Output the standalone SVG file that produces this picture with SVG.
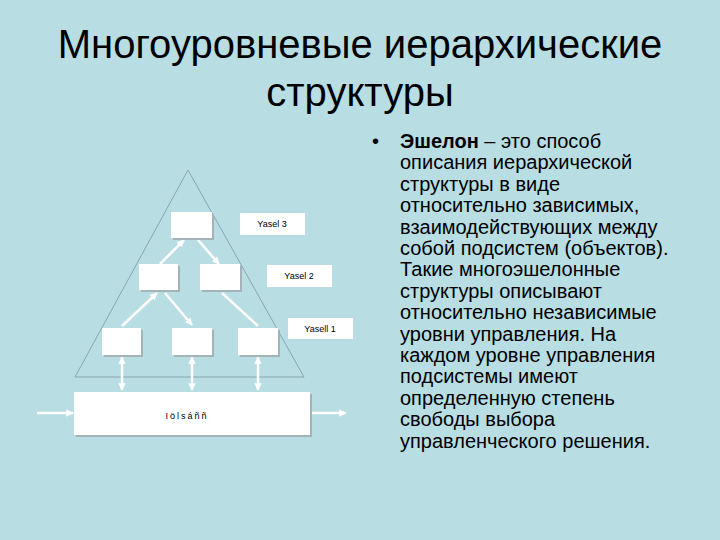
<svg xmlns="http://www.w3.org/2000/svg" width="720" height="540" viewBox="0 0 720 540">
<defs>
<style>
.title{font-family:"Liberation Sans",Arial,sans-serif;font-size:40px;fill:#000;text-anchor:middle}
.body{font-family:"Liberation Sans",Arial,sans-serif;font-size:20px;fill:#000}
.small{font-family:"Liberation Sans",Arial,sans-serif;font-size:9px;fill:#000;text-anchor:middle}
.box{fill:#fff}
.shadow{fill:#a3b3b7}
.lbl{fill:#fff}
.conn{stroke:#fff;stroke-width:2.5;fill:none}
.tri{stroke:#86a7b0;stroke-width:1;fill:none}
</style>
<marker id="ah" viewBox="0 0 10 10" refX="9" refY="5" markerWidth="3" markerHeight="3" orient="auto-start-reverse">
<path d="M0,0 L10,5 L0,10 z" fill="#fff"/>
</marker>
</defs>
<rect x="0" y="0" width="720" height="540" fill="#b8dde3"/>
<g id="title">
<text class="title" x="360" y="58">Многоуровневые иерархические</text>
<text class="title" x="360" y="106">структуры</text>
</g>
<g id="triangle"><polygon class="tri" points="188,170 75,377 304,377"/></g>
<g id="connectors">
<line class="conn" x1="184" y1="240" x2="160" y2="264" marker-start="url(#ah)"/>
<line class="conn" x1="198" y1="240" x2="219" y2="264" marker-end="url(#ah)"/>
<line class="conn" x1="157" y1="293" x2="122" y2="326" marker-start="url(#ah)"/>
<line class="conn" x1="165" y1="293" x2="192" y2="325" marker-end="url(#ah)"/>
<line class="conn" x1="222" y1="293" x2="258" y2="326"/>
<line class="conn" x1="122" y1="357" x2="122" y2="390" marker-start="url(#ah)" marker-end="url(#ah)"/>
<line class="conn" x1="192" y1="357" x2="192" y2="390" marker-start="url(#ah)" marker-end="url(#ah)"/>
<line class="conn" x1="258" y1="357" x2="258" y2="390" marker-start="url(#ah)" marker-end="url(#ah)"/>
<line class="conn" x1="37" y1="413" x2="73" y2="413" marker-end="url(#ah)"/>
<line class="conn" x1="311" y1="413" x2="346" y2="413" marker-end="url(#ah)"/>
</g>
<g id="n-top"><rect class="shadow" x="173" y="214" width="41" height="26"/><rect class="box" x="171" y="212" width="41" height="26"/></g>
<g id="n-l2a"><rect class="shadow" x="141" y="266" width="39" height="26"/><rect class="box" x="139" y="264" width="39" height="26"/></g>
<g id="n-l2b"><rect class="shadow" x="202" y="266" width="40" height="26"/><rect class="box" x="200" y="264" width="40" height="26"/></g>
<g id="n-l1a"><rect class="shadow" x="104" y="330" width="39" height="27"/><rect class="box" x="102" y="328" width="39" height="27"/></g>
<g id="n-l1b"><rect class="shadow" x="174" y="330" width="40" height="27"/><rect class="box" x="172" y="328" width="40" height="27"/></g>
<g id="n-l1c"><rect class="shadow" x="240" y="330" width="40" height="27"/><rect class="box" x="238" y="328" width="40" height="27"/></g>
<g id="n-base"><rect class="shadow" x="76" y="394" width="236" height="43"/><rect class="box" x="74" y="392" width="236" height="43"/><text class="small" x="187" y="419" letter-spacing="2">Iölsáññ</text></g>
<g id="lbl3"><rect class="lbl" x="240" y="213" width="65" height="22"/><text class="small" x="272" y="227">Yasel 3</text></g>
<g id="lbl2"><rect class="lbl" x="267" y="265" width="65" height="22"/><text class="small" x="299" y="279">Yasel 2</text></g>
<g id="lbl1"><rect class="lbl" x="288" y="318" width="65" height="21"/><text class="small" x="320" y="332">Yasell 1</text></g>
<g id="text">
<text class="body" x="372" y="148">•</text>
<text class="body" x="400" y="148"><tspan font-weight="bold">Эшелон</tspan> – это способ</text>
<text class="body" x="400" y="169.4">описания иерархической</text>
<text class="body" x="400" y="190.8">структуры в виде</text>
<text class="body" x="400" y="212.2">относительно зависимых,</text>
<text class="body" x="400" y="233.6">взаимодействующих между</text>
<text class="body" x="400" y="255">собой подсистем (объектов).</text>
<text class="body" x="400" y="276.4">Такие многоэшелонные</text>
<text class="body" x="400" y="297.8">структуры описывают</text>
<text class="body" x="400" y="319.2">относительно независимые</text>
<text class="body" x="400" y="340.6">уровни управления. На</text>
<text class="body" x="400" y="362">каждом уровне управления</text>
<text class="body" x="400" y="383.4">подсистемы имеют</text>
<text class="body" x="400" y="404.8">определенную степень</text>
<text class="body" x="400" y="426.2">свободы выбора</text>
<text class="body" x="400" y="447.6">управленческого решения.</text>
</g>
</svg>
